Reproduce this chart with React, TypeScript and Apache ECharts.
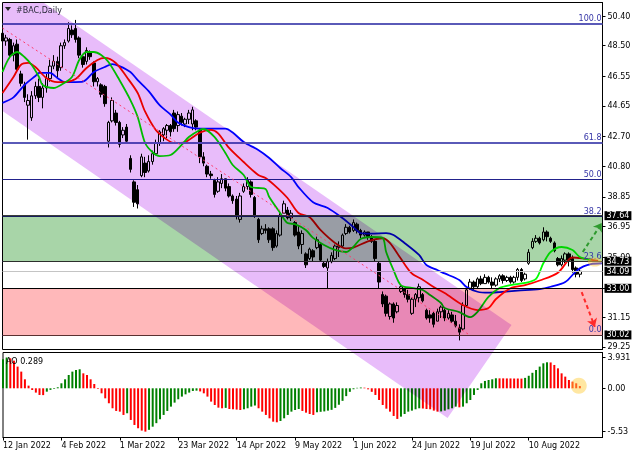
import React, { useEffect, useRef } from "react";
import * as echarts from "echarts";

const FONT = "DejaVu Sans";

// ---------- data ----------
const dateTickIndex = [0, 16, 32, 48, 64, 80, 96, 112, 128, 144];
const dateTickLabels = ["12 Jan 2022", "4 Feb 2022", "1 Mar 2022", "23 Mar 2022", "14 Apr 2022", "9 May 2022", "1 Jun 2022", "24 Jun 2022", "19 Jul 2022", "10 Aug 2022"];
const priceTickValues = [50.4, 48.5, 46.55, 44.65, 42.7, 40.8, 38.85, 36.95, 35.0, 33.0, 31.15, 29.25];
const aoTickValues = [3.931, 0, -5.53];
const aoTickLabels = ["3.931", "0.00", "-5.53"];

// [open, close, low, high]
const ohlc: number[][] = [
  [49.3, 48.8, 48.7, 49.5], [48.8, 49.0, 48.5, 49.2], [48.9, 47.9, 47.7, 49.0], [47.9, 48.5, 47.5, 48.7],
  [48.6, 47.0, 46.8, 48.9], [46.7, 46.1, 45.9, 46.9], [46.0, 45.2, 44.9, 46.2], [44.7, 45.0, 42.5, 45.4],
  [43.9, 45.3, 43.7, 45.6], [45.3, 45.9, 45.1, 46.2], [45.9, 45.2, 44.9, 46.4], [45.2, 45.8, 44.5, 46.1],
  [45.8, 46.4, 45.5, 46.7], [46.4, 47.2, 46.2, 47.6], [47.2, 47.5, 47.0, 47.9], [47.5, 46.9, 46.4, 47.8],
  [47.1, 48.5, 46.9, 48.7], [48.5, 48.7, 48.3, 48.9], [48.8, 49.6, 48.7, 50.0], [49.5, 49.2, 49.0, 49.8],
  [49.6, 48.9, 48.7, 50.15], [49.0, 47.9, 47.7, 49.1], [47.8, 47.3, 47.1, 47.9], [47.5, 48.2, 47.3, 48.4],
  [48.1, 47.8, 47.6, 48.2], [47.4, 46.2, 45.9, 47.5], [46.2, 46.4, 45.9, 46.5], [46.0, 45.4, 45.2, 46.1],
  [45.9, 44.8, 44.6, 46.0], [42.4, 43.6, 42.0, 43.7], [43.7, 45.0, 43.6, 45.2], [44.2, 43.6, 43.4, 44.4],
  [43.6, 42.2, 42.0, 43.7], [42.8, 43.1, 42.6, 43.3], [43.3, 42.4, 42.3, 43.5], [41.3, 40.6, 40.4, 41.5],
  [39.8, 38.5, 38.2, 39.9], [39.3, 38.4, 38.1, 39.6], [40.2, 41.4, 40.1, 41.6], [41.0, 40.4, 40.1, 41.4],
  [40.5, 41.1, 40.4, 41.5], [41.1, 41.6, 40.9, 41.8], [41.6, 42.3, 41.5, 42.5], [42.3, 43.0, 42.1, 43.1],
  [42.8, 43.2, 42.4, 43.3], [43.1, 43.4, 42.6, 43.5], [43.4, 43.0, 42.7, 43.5], [44.2, 43.2, 43.0, 44.4],
  [43.4, 44.1, 43.0, 44.3], [44.0, 43.6, 43.4, 44.2], [43.5, 43.8, 43.3, 43.9], [43.8, 44.2, 43.5, 44.4],
  [43.5, 44.4, 43.1, 44.6], [43.7, 43.3, 43.1, 43.8], [43.1, 41.4, 41.0, 43.2], [41.4, 41.0, 40.8, 41.7],
  [40.8, 40.3, 40.1, 40.9], [40.3, 40.2, 40.0, 40.5], [39.9, 39.0, 38.8, 40.0], [39.2, 39.8, 39.1, 40.1],
  [39.7, 40.0, 39.4, 40.3], [40.0, 39.4, 39.2, 40.0], [39.5, 38.9, 38.8, 39.7], [38.9, 38.6, 38.4, 39.0],
  [38.7, 37.6, 37.4, 38.9], [37.4, 38.9, 37.2, 39.1], [39.2, 39.5, 39.1, 39.7], [39.5, 39.9, 39.3, 40.1],
  [39.8, 39.0, 38.8, 39.9], [38.8, 37.6, 37.5, 38.9], [37.4, 36.1, 35.9, 37.5], [36.5, 36.8, 36.4, 37.0],
  [36.8, 36.7, 36.5, 37.1], [36.8, 36.1, 35.9, 36.9], [36.8, 35.6, 35.4, 36.9], [35.7, 36.5, 35.6, 36.7],
  [36.4, 37.6, 36.3, 37.8], [37.8, 38.4, 37.8, 38.6], [38.0, 37.5, 37.4, 38.2], [37.5, 37.8, 37.3, 38.0],
  [37.2, 36.4, 36.3, 37.3], [36.6, 35.7, 35.5, 37.0], [35.8, 36.5, 35.2, 36.7], [35.2, 34.5, 34.3, 35.3],
  [34.9, 35.5, 34.8, 35.6], [35.4, 35.0, 34.7, 35.5], [35.6, 36.1, 35.5, 36.3], [35.8, 34.8, 34.7, 35.9],
  [34.6, 34.4, 34.3, 34.7], [34.3, 34.7, 32.96, 34.9], [34.7, 35.1, 34.6, 35.3], [34.9, 35.7, 34.8, 35.8],
  [35.6, 35.7, 35.0, 36.0], [35.7, 36.4, 35.6, 36.5], [36.5, 36.9, 36.4, 37.1], [36.9, 36.6, 36.5, 37.0],
  [36.7, 37.2, 36.6, 37.4], [37.1, 36.7, 36.5, 37.2], [36.7, 36.4, 36.2, 36.8], [36.4, 36.6, 36.3, 36.7],
  [36.6, 36.3, 36.1, 36.6], [36.3, 36.0, 35.9, 36.4], [36.0, 34.9, 34.7, 36.1], [34.6, 33.4, 33.0, 34.7],
  [32.6, 32.0, 31.8, 32.8], [32.5, 31.4, 31.2, 32.6], [31.2, 32.0, 31.0, 32.1], [32.0, 31.1, 30.8, 32.1],
  [31.5, 31.9, 31.4, 32.1], [32.8, 33.1, 32.7, 33.2], [33.0, 32.6, 32.4, 33.0], [32.6, 32.3, 32.1, 32.9],
  [31.4, 32.3, 31.3, 32.4], [32.3, 32.6, 31.8, 32.7], [32.4, 33.1, 32.1, 33.3], [32.6, 32.2, 32.1, 32.7],
  [31.6, 31.1, 31.0, 31.7], [31.3, 31.1, 30.8, 31.6], [31.4, 30.7, 30.5, 31.5], [30.9, 31.5, 30.9, 31.7],
  [31.5, 31.8, 31.1, 31.9], [31.6, 31.1, 30.9, 31.7], [31.1, 31.4, 31.0, 31.6], [31.3, 30.9, 30.8, 31.5],
  [30.9, 30.6, 30.5, 31.3], [30.5, 30.2, 29.67, 30.7], [30.4, 31.9, 30.3, 32.1], [31.9, 32.9, 31.8, 33.0],
  [33.0, 33.4, 32.9, 33.6], [33.4, 33.1, 32.9, 33.5], [33.1, 33.6, 33.0, 33.7], [33.6, 33.3, 33.2, 33.8],
  [33.3, 33.7, 33.3, 33.9], [33.7, 33.4, 33.3, 33.8], [33.4, 33.2, 33.0, 33.7], [33.2, 33.6, 33.1, 33.7],
  [33.6, 33.8, 33.4, 33.9], [33.8, 33.5, 33.3, 33.9], [33.5, 33.7, 33.4, 33.8], [33.7, 33.4, 33.3, 33.8],
  [33.4, 33.7, 33.3, 33.8], [33.7, 34.2, 33.5, 34.3], [34.2, 33.5, 33.4, 34.3], [33.6, 33.9, 33.5, 34.0],
  [34.6, 35.3, 34.5, 35.5], [35.6, 36.0, 35.5, 36.2], [36.0, 36.2, 35.9, 36.4], [36.2, 35.9, 35.8, 36.3],
  [36.1, 36.6, 36.0, 36.9], [36.6, 36.3, 36.0, 36.7], [36.2, 36.0, 35.9, 36.3], [35.9, 35.4, 35.3, 36.0],
  [34.9, 34.5, 34.4, 35.0], [34.5, 34.9, 34.4, 35.1], [34.8, 35.2, 34.6, 35.3], [35.2, 34.8, 34.4, 35.3],
  [34.9, 34.2, 34.0, 35.1], [34.3, 33.9, 33.7, 34.4], [33.9, 34.09, 33.7, 34.3],
];

const aoValues: number[] = [
  3.7, 3.931, 3.83, 3.53, 2.77, 2.13, 1.15, 0.34, -0.21, -0.55, -0.85, -0.87, -0.43, -0.2, -0.08, 0.13,
  0.64, 1.15, 1.7, 2.13, 2.34, 2.43, 1.91, 1.7, 1.15, 0.55, -0.08, -0.64, -1.28, -1.91, -2.55, -2.89,
  -2.98, -3.4, -3.19, -4.04, -4.68, -5.1, -5.4, -5.53, -5.3, -4.9, -4.45, -3.95, -3.4, -2.89, -2.34, -1.83,
  -1.4, -1.06, -0.77, -0.55, -0.34, -0.3, -0.4, -0.64, -1.06, -1.7, -2.13, -2.47, -2.55, -2.5, -2.64, -2.68,
  -2.72, -2.77, -2.68, -2.55, -2.34, -2.2, -2.55, -2.98, -3.4, -3.83, -4.26, -4.34, -4.17, -3.83, -3.4, -2.98,
  -2.77, -2.64, -2.89, -3.11, -3.28, -3.4, -3.06, -3.0, -2.95, -2.85, -2.75, -2.5, -2.1, -1.6, -1.0, -0.45,
  -0.12, 0.06, 0.1, 0.08, -0.13, -0.45, -0.85, -1.49, -2.13, -2.6, -2.98, -3.53, -3.91, -3.62, -3.28, -2.98,
  -2.85, -2.68, -2.55, -2.58, -2.64, -2.68, -2.85, -2.98, -2.95, -2.85, -2.68, -2.55, -2.34, -2.43, -2.34, -1.91,
  -1.49, -0.85, -0.21, 0.64, 0.94, 1.06, 1.15, 1.28, 1.27, 1.27, 1.26, 1.26, 1.25, 1.25, 1.24, 1.33,
  1.6, 1.98, 2.34, 2.77, 3.19, 3.32, 3.3, 2.98, 2.55, 1.91, 1.49, 1.06, 0.85, 0.64, 0.289,
];

// Alligator lines: [bar index, price]
const jawPoints: number[][] = [
  [0, 44.85], [3, 45.2], [6, 45.99], [9, 46.57], [10, 46.76], [13, 46.76], [15, 46.44], [17, 46.18], [20, 46.18],
  [22, 46.2], [25, 46.82], [28, 47.14], [30, 47.33], [32, 47.2], [35, 46.82], [37, 46.3], [40, 45.6], [43, 44.7],
  [46, 44.1], [48, 43.6], [51, 43.3], [54, 43.2], [57, 43.2], [61, 43.2], [63, 42.95], [66, 42.35], [70, 41.84],
  [73, 41.33], [76, 40.69], [79, 40.11], [81, 39.47], [85, 38.5], [89, 38.13], [93, 37.49], [96, 36.92],
  [98, 36.53], [101, 36.5], [105, 36.53], [107, 36.41], [110, 35.9], [114, 35.13], [116, 34.49], [119, 34.17],
  [121, 33.95], [125, 33.53], [127, 33.08], [130, 32.78], [133, 32.72], [136, 32.76], [141, 32.85], [147, 32.95],
  [150, 33.1], [154, 33.4], [157, 34.1], [159, 34.4], [161, 34.55], [164, 34.6],
];
const teethPoints: number[][] = [
  [0, 45.48], [3, 46.5], [5, 47.27], [7, 47.4], [9, 47.14], [12, 46.44], [15, 46.18], [17, 46.18], [20, 46.37],
  [23, 47.08], [26, 47.59], [28, 47.72], [31, 47.4], [34, 46.5], [37, 45.48], [39, 44.3], [42, 43.1], [45, 42.5],
  [47, 42.28], [50, 42.35], [54, 42.95], [57, 43.12], [59, 42.9], [62, 41.97], [66, 41.07], [70, 40.24],
  [72, 40.05], [75, 39.47], [78, 38.77], [81, 37.81], [84, 37.56], [87, 36.73], [91, 35.9], [94, 35.55],
  [96, 35.6], [100, 36.0], [104, 36.2], [106, 35.9], [109, 34.9], [112, 33.95], [115, 33.55], [118, 33.08],
  [121, 32.7], [126, 31.93], [130, 31.61], [133, 31.74], [135, 32.3], [139, 33.0], [143, 33.2], [147, 33.5],
  [152, 34.0], [155, 34.85], [156, 34.97], [159, 34.9], [163, 34.75],
];
const lipsPoints: number[][] = [
  [0, 46.82], [2, 47.78], [4, 48.1], [6, 47.78], [8, 47.27], [10, 46.5], [11, 45.99], [14, 45.8], [16, 45.99],
  [19, 46.5], [21, 47.59], [23, 48.1], [25, 48.1], [27, 47.91], [29, 47.46], [32, 46.31], [35, 45.03], [37, 43.95],
  [39, 42.3], [41, 41.71], [43, 41.45], [46, 41.52], [49, 42.16], [51, 42.67], [54, 43.12], [55, 43.18],
  [58, 42.67], [61, 41.65], [63, 40.88], [66, 40.24], [68, 39.47], [70, 39.41], [72, 39.35], [73, 38.83],
  [76, 37.81], [78, 37.17], [80, 37.1], [83, 36.73], [85, 36.22], [88, 35.77], [91, 35.45], [94, 35.32],
  [96, 35.64], [98, 36.15], [101, 36.28], [104, 36.22], [105, 35.32], [107, 34.17], [109, 33.21], [112, 33.02],
  [115, 32.89], [117, 32.57], [120, 32.06], [121, 31.74], [125, 31.48], [128, 31.16], [130, 31.5], [133, 32.45],
  [136, 33.02], [139, 33.21], [143, 33.34], [146, 33.6], [148, 34.6], [150, 35.32], [153, 35.64], [156, 35.45],
  [158, 35.0], [161, 34.81],
];

const fibHigh = 49.9;
const fibLow = 30.02;
const fibRatios = [100, 61.8, 50, 38.2, 23.6, 0];
const zoneBounds = [[37.64, 34.73], [33.0, 30.02]];
const priceLevels = [37.64, 34.73, 34.09, 33.0, 30.02];
// channel outline (bar index, price)
const channelBars = [0, 11.2, 139.3, 121.8, 0];
const channelPrices = [51.26, 51.26, 30.66, 24.71, 44.33];
const midlinePoints = [[0, 49.63], [127.8, 30.02]];
const upArrow = [[158.8, 35.32], [164.0, 37.17]];
const downArrow = [[158.5, 32.76], [162.1, 30.53]];
const priceMarker = [162.1, 34.68];
const aoMarker = [157.7, 0.33];

// ---------- layout / style ----------
const X_MAX = 164.2;
const Y_MIN = 29.09;
const Y_MAX = 51.263;
const AO_MIN = -6.28;
const AO_MAX = 4.57;
const CHANNEL_FILL = "#e8bcfa";
const ZONE_FILLS = ["#a8d5a8", "#ffb8ba"];
const LEVEL_COLORS = ["#404040", "#303030", "#c4c4c4", "#000000", "#5a3030"];

function hexToRgb(h: string) {
  const n = parseInt(h.slice(1), 16);
  return `rgb(${(n >> 16) & 255},${(n >> 8) & 255},${n & 255})`;
}

export default function App() {
  const ref = useRef<HTMLDivElement>(null);

  useEffect(() => {
    if (!ref.current) return;
    const chart = echarts.init(ref.current, undefined, { renderer: "svg" });

    const targets = new Set<string>();
    [CHANNEL_FILL, ...ZONE_FILLS].forEach((c) => {
      targets.add(c.toLowerCase());
      targets.add(hexToRgb(c));
    });
    const applyBlend = () => {
      const root = ref.current;
      if (!root) return;
      root.querySelectorAll("path,rect,polygon").forEach((el) => {
        const f = (el.getAttribute("fill") || "").replace(/\s+/g, "").toLowerCase();
        if (targets.has(f)) (el as SVGElement).style.mixBlendMode = "multiply";
      });
    };
    chart.on("finished", applyBlend);

    const textBase = { fontFamily: FONT, fontSize: 8 };

    const fibLines = fibRatios.map((r) => {
      const thick = r > 60;
      return {
        yAxis: fibLow + ((fibHigh - fibLow) * r) / 100,
        lineStyle: { color: thick ? "#5a5ab8" : "#22228c", width: thick ? 2 : 1, type: "solid" },
        label: {
          show: true,
          position: "insideEndTop",
          formatter: r.toFixed(1),
          color: "#3434a6",
          ...textBase,
          distance: [1, 1],
        },
      };
    });

    const levelLines = priceLevels.map((v, i) => ({
      yAxis: v,
      lineStyle: { color: LEVEL_COLORS[i], width: 1, type: "solid" },
      label: {
        show: true,
        position: "end",
        formatter: v.toFixed(2),
        color: "#ffffff",
        backgroundColor: "#000000",
        padding: [1, 2, 0, 2],
        distance: 2,
        ...textBase,
      },
    }));

    const option: any = {
      animation: false,
      backgroundColor: "#ffffff",
      textStyle: { fontFamily: FONT, fontSize: 8, color: "#000" },
      grid: [
        { left: 2.5, top: 2.5, width: 600, height: 347, show: true, borderColor: "#000", borderWidth: 1, backgroundColor: "transparent" },
        { left: 2.5, top: 352.5, width: 600, height: 85, show: true, borderColor: "#000", borderWidth: 1, backgroundColor: "transparent" },
      ],
      xAxis: [
        { type: "value", gridIndex: 0, min: 0, max: X_MAX, show: false },
        {
          type: "value",
          gridIndex: 1,
          min: 0,
          max: X_MAX,
          axisLine: { show: true, onZero: false, lineStyle: { color: "#000" } },
          axisTick: { show: true, customValues: dateTickIndex, length: 3, lineStyle: { color: "#000" } },
          axisLabel: {
            customValues: dateTickIndex,
            formatter: (v: number) => {
              const k = dateTickIndex.indexOf(Math.round(v));
              return k >= 0 ? dateTickLabels[k] : "";
            },
            align: "left",
            margin: 4,
            color: "#000",
            ...textBase,
          },
          splitLine: { show: false },
        },
      ],
      yAxis: [
        {
          type: "value",
          gridIndex: 0,
          position: "right",
          min: Y_MIN,
          max: Y_MAX,
          axisLine: { show: true, onZero: false, lineStyle: { color: "#000" } },
          axisTick: { show: true, customValues: priceTickValues, length: 3, lineStyle: { color: "#000" } },
          axisLabel: { customValues: priceTickValues, formatter: (v: number) => v.toFixed(2), margin: 5, color: "#000", ...textBase },
          splitLine: { show: false },
        },
        {
          type: "value",
          gridIndex: 1,
          position: "right",
          min: AO_MIN,
          max: AO_MAX,
          axisLine: { show: true, onZero: false, lineStyle: { color: "#000" } },
          axisTick: { show: true, customValues: aoTickValues, length: 3, lineStyle: { color: "#000" } },
          axisLabel: {
            customValues: aoTickValues,
            formatter: (v: number) => {
              let best = 0;
              aoTickValues.forEach((t, k) => {
                if (Math.abs(t - v) < Math.abs(aoTickValues[best] - v)) best = k;
              });
              return aoTickLabels[best];
            },
            margin: 5,
            color: "#000",
            ...textBase,
          },
          splitLine: { show: false },
        },
      ],
      graphic: [
        { type: "polygon", z: 100, shape: { points: [[5, 7], [11, 7], [8, 11]] }, style: { fill: "#222" } },
        { type: "text", z: 100, x: 16, y: 10, style: { text: "#BAC,Daily", fill: "#2a2a3a", font: `8px '${FONT}'`, verticalAlign: "middle" } },
        {
          type: "text",
          z: 100,
          x: 6,
          y: 361,
          style: { text: `AO ${aoValues[aoValues.length - 1]}`, fill: "#000", font: `8px '${FONT}'`, verticalAlign: "middle" },
        },
      ],
      series: [
        {
          type: "candlestick",
          xAxisIndex: 0,
          yAxisIndex: 0,
          z: 2,
          barWidth: 3,
          data: ohlc.map((d, i) => [i, d[0], d[1], d[2], d[3]]),
          encode: { x: 0, y: [1, 2, 3, 4] },
          itemStyle: { color: "#ffffff", color0: "#000000", borderColor: "#000000", borderColor0: "#000000", borderWidth: 1 },
          silent: true,
          markLine: { silent: true, symbol: ["none", "none"], animation: false, data: fibLines },
        },
        {
          type: "line",
          xAxisIndex: 0,
          yAxisIndex: 0,
          z: 3,
          data: jawPoints,
          showSymbol: false,
          smooth: 0.3,
          lineStyle: { color: "#0000ff", width: 1.8 },
          silent: true,
        },
        {
          type: "line",
          xAxisIndex: 0,
          yAxisIndex: 0,
          z: 3,
          data: teethPoints,
          showSymbol: false,
          smooth: 0.3,
          lineStyle: { color: "#ff0000", width: 1.8 },
          silent: true,
        },
        {
          type: "line",
          xAxisIndex: 0,
          yAxisIndex: 0,
          z: 3,
          data: lipsPoints,
          showSymbol: false,
          smooth: 0.3,
          lineStyle: { color: "#00ff00", width: 1.8 },
          silent: true,
        },
        {
          type: "bar",
          xAxisIndex: 1,
          yAxisIndex: 1,
          z: 2,
          barWidth: 2,
          data: aoValues.map((v, i) => [i, v]),
          itemStyle: {
            color: (p: any) => {
              const i = p.dataIndex;
              return i === 0 || aoValues[i] > aoValues[i - 1] ? "#008000" : "#ff0000";
            },
          },
          silent: true,
        },
        {
          type: "custom",
          xAxisIndex: 0,
          yAxisIndex: 0,
          z: 5,
          silent: true,
          data: zoneBounds,
          renderItem: (params: any, api: any) => {
            const cs = params.coordSys;
            const top = api.coord([0, api.value(0)])[1];
            const bottom = api.coord([0, api.value(1)])[1];
            return {
              type: "rect",
              shape: { x: cs.x, y: top, width: cs.width, height: bottom - top },
              style: { fill: ZONE_FILLS[params.dataIndex], blend: "multiply" },
            };
          },
        },
        {
          type: "custom",
          xAxisIndex: 0,
          yAxisIndex: 0,
          z: 6,
          clip: false,
          silent: true,
          data: [[0, 40]],
          renderItem: (_params: any, api: any) => {
            const points = channelBars.map((b, k) => api.coord([b, channelPrices[k]]));
            return { type: "polygon", shape: { points }, style: { fill: CHANNEL_FILL, blend: "multiply" } };
          },
        },
        {
          type: "line",
          xAxisIndex: 0,
          yAxisIndex: 0,
          z: 7,
          data: midlinePoints,
          showSymbol: false,
          lineStyle: { color: "#ff3b6b", width: 1, type: [2, 3] },
          silent: true,
          markLine: { silent: true, symbol: ["none", "none"], animation: false, data: levelLines },
        },
        {
          type: "lines",
          coordinateSystem: "cartesian2d",
          xAxisIndex: 0,
          yAxisIndex: 0,
          z: 8,
          symbol: ["none", "arrow"],
          symbolSize: 8,
          silent: true,
          lineStyle: { width: 2, type: [4, 3], opacity: 1 },
          data: [
            { coords: upArrow, lineStyle: { color: "#2e9a2e", width: 2, type: [4, 3] } },
            { coords: downArrow, lineStyle: { color: "#ff2a2a", width: 2, type: [4, 3] } },
          ],
        },
        {
          type: "scatter",
          xAxisIndex: 0,
          yAxisIndex: 0,
          z: 9,
          symbol: "circle",
          symbolSize: [14, 9],
          data: [priceMarker],
          itemStyle: { color: "rgba(255,200,60,0.6)" },
          silent: true,
        },
        {
          type: "scatter",
          xAxisIndex: 1,
          yAxisIndex: 1,
          z: 9,
          symbol: "circle",
          symbolSize: 16,
          data: [aoMarker],
          itemStyle: { color: "rgba(255,205,60,0.6)" },
          silent: true,
        },
      ],
    };

    chart.setOption(option);
    applyBlend();
    const t = setTimeout(applyBlend, 50);

    return () => {
      clearTimeout(t);
      chart.dispose();
    };
  }, []);

  return <div ref={ref} style={{ position: "fixed", left: 0, top: 0, width: 640, height: 457 }} />;
}
